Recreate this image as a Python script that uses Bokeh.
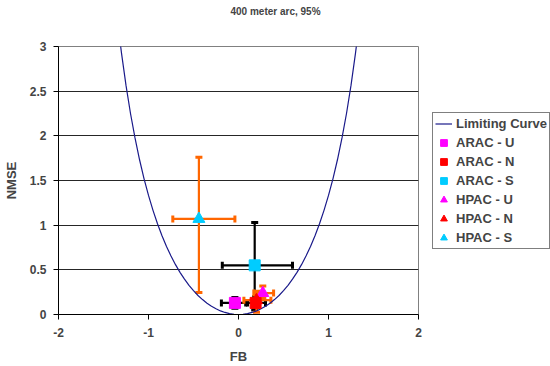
from bokeh.plotting import figure
from bokeh.layouts import row
from bokeh.models import (ColumnDataSource, Whisker, TeeHead, Legend, LegendItem,
                          FixedTicker, NumeralTickFormatter, Range1d, Title)
from bokeh.embed import file_html
from bokeh.resources import INLINE

# ---- data ----
title_text = "400 meter arc, 95%"
x_label = "FB"
y_label = "NMSE"
x_ticks = [-2, -1, 0, 1, 2]
y_ticks = [0, 0.5, 1, 1.5, 2, 2.5, 3]

# limiting curve
curve_fb = [-1.32, -1.30, -1.25, -1.20, -1.15, -1.10, -1.05, -1.00, -0.95, -0.90, -0.85,
            -0.80, -0.75, -0.70, -0.65, -0.60, -0.55, -0.50, -0.45, -0.40, -0.35, -0.30,
            -0.25, -0.20, -0.15, -0.10, -0.05, 0.00, 0.05, 0.10, 0.15, 0.20, 0.25, 0.30,
            0.35, 0.40, 0.45, 0.50, 0.55, 0.60, 0.65, 0.70, 0.75, 0.80, 0.85, 0.90, 0.95,
            1.00, 1.05, 1.10, 1.15, 1.20, 1.25, 1.30, 1.32]
curve_nmse = [3.087, 2.926, 2.564, 2.250, 1.976, 1.735, 1.522, 1.333, 1.166, 1.016, 0.882,
              0.762, 0.655, 0.558, 0.472, 0.396, 0.327, 0.267, 0.213, 0.167, 0.126, 0.092,
              0.064, 0.040, 0.023, 0.010, 0.0025, 0.0, 0.0025, 0.010, 0.023, 0.040, 0.064, 0.092,
              0.126, 0.167, 0.213, 0.267, 0.327, 0.396, 0.472, 0.558, 0.655, 0.762, 0.882, 1.016, 1.166,
              1.333, 1.522, 1.735, 1.976, 2.250, 2.564, 2.926, 3.087]

series_names = ["ARAC - U", "ARAC - N", "ARAC - S", "HPAC - U", "HPAC - N", "HPAC - S"]
fb =      [-0.04, 0.19, 0.18, 0.27, 0.20, -0.44]
nmse =    [0.13, 0.13, 0.55, 0.24, 0.16, 1.07]
fb_lo =   [-0.19, 0.08, -0.18, 0.17, 0.06, -0.73]
fb_hi =   [0.10, 0.30, 0.60, 0.39, 0.36, -0.04]
nmse_lo = [0.07, 0.08, 0.05, 0.18, 0.025, 0.245]
nmse_hi = [0.19, 0.20, 1.03, 0.32, 0.26, 1.76]

# ---- styles ----
marker_colors = ["#FF00FF", "#FF0000", "#00CCFF", "#FF00FF", "#FF0000", "#00CCFF"]
marker_kinds = ["square", "square", "square", "triangle", "triangle", "triangle"]
marker_sizes = [11, 11, 11, 12, 12, 12]
bar_colors = ["#000000", "#000000", "#000000", "#FF6600", "#FF6600", "#FF6600"]
curve_color = "#1a1a8a"
FONT = "Liberation Sans"

p = figure(width=432, height=366, x_range=Range1d(-2, 2), y_range=Range1d(0, 3),
           output_backend="svg", toolbar_location=None, title=None,
           min_border_left=58, min_border_right=14, min_border_top=46, min_border_bottom=52)

# spacer (next to the frame) then the real title above it
p.add_layout(Title(text=" ", text_font_size="1px", standoff=25), "above")
p.add_layout(Title(text=title_text, align="left", offset=172, text_font=FONT,
                   text_font_size="10px", text_font_style="bold", standoff=4), "above")

p.outline_line_color = "#808080"
p.xgrid.visible = False
p.ygrid.grid_line_color = "#000000"
p.ygrid.grid_line_alpha = 0.85

p.xaxis.ticker = FixedTicker(ticks=x_ticks)
p.yaxis.ticker = FixedTicker(ticks=y_ticks)
p.xaxis.formatter = NumeralTickFormatter(format="0.[0]")
p.yaxis.formatter = NumeralTickFormatter(format="0.[0]")
for ax in (p.xaxis[0], p.yaxis[0]):
    ax.axis_line_color = "#000000"
    ax.major_tick_line_color = "#000000"
    ax.major_tick_out = 5
    ax.major_tick_in = 0
    ax.minor_tick_line_color = None
    ax.major_label_text_font = FONT
    ax.major_label_text_font_style = "bold"
    ax.major_label_text_font_size = "12px"
    ax.axis_label_text_font = FONT
    ax.axis_label_text_font_style = "bold"
    ax.axis_label_text_font_size = "13px"
p.xaxis.axis_label = x_label
p.yaxis.axis_label = y_label
p.xaxis.major_label_standoff = 8
p.yaxis.major_label_standoff = 7
p.xaxis.axis_label_standoff = 9
p.yaxis.axis_label_standoff = 8

p.line(curve_fb, curve_nmse, line_color=curve_color, line_width=1.2)

for i, name in enumerate(series_names):
    src = ColumnDataSource(dict(x=[fb[i]], y=[nmse[i]], xl=[fb_lo[i]], xh=[fb_hi[i]],
                                yl=[nmse_lo[i]], yh=[nmse_hi[i]]))
    c = bar_colors[i]
    wy = Whisker(source=src, base="x", lower="yl", upper="yh", dimension="height",
                 line_color=c, line_width=2.2,
                 lower_head=TeeHead(size=7, line_color=c, line_width=3),
                 upper_head=TeeHead(size=7, line_color=c, line_width=3))
    wx = Whisker(source=src, base="y", lower="xl", upper="xh", dimension="width",
                 line_color=c, line_width=2.2,
                 lower_head=TeeHead(size=7, line_color=c, line_width=3),
                 upper_head=TeeHead(size=7, line_color=c, line_width=3))
    p.add_layout(wy)
    p.add_layout(wx)

for i, name in enumerate(series_names):
    src = ColumnDataSource(dict(x=[fb[i]], y=[nmse[i]]))
    p.scatter("x", "y", source=src, marker=marker_kinds[i], size=marker_sizes[i],
              fill_color=marker_colors[i], line_color=marker_colors[i])

# ---- legend panel (separate figure to the right of the plot) ----
# legend-only glyphs sit outside this panel's visible range
lg = figure(width=118, height=366, x_range=Range1d(0, 1), y_range=Range1d(0, 1),
            output_backend="svg", toolbar_location=None,
            x_axis_location=None, y_axis_location=None, min_border=0)
lg.outline_line_color = None
lg.grid.visible = False

leg_curve = lg.line(x=[5, 6], y=[5, 6], line_color=curve_color, line_width=1.2)
legend_items = [LegendItem(label="Limiting Curve", renderers=[leg_curve])]
for i, name in enumerate(series_names):
    r = lg.scatter(x=[5], y=[5], marker=marker_kinds[i], size=marker_sizes[i],
                   fill_color=marker_colors[i], line_color=marker_colors[i])
    legend_items.append(LegendItem(label=name, renderers=[r]))

legend = Legend(items=legend_items, location=(0, 65))
legend.border_line_color = "#000000"
legend.border_line_width = 1
legend.background_fill_color = "#FFFFFF"
legend.background_fill_alpha = 1
legend.label_text_font = FONT
legend.label_text_font_style = "bold"
legend.label_text_font_size = "13px"
legend.label_height = 17
legend.glyph_height = 17
legend.glyph_width = 17
legend.label_standoff = 4
legend.spacing = 2
legend.padding = 2
legend.margin = 0
lg.add_layout(legend)

layout = row(p, lg)
open("out.html", "w").write(file_html(layout, INLINE))
